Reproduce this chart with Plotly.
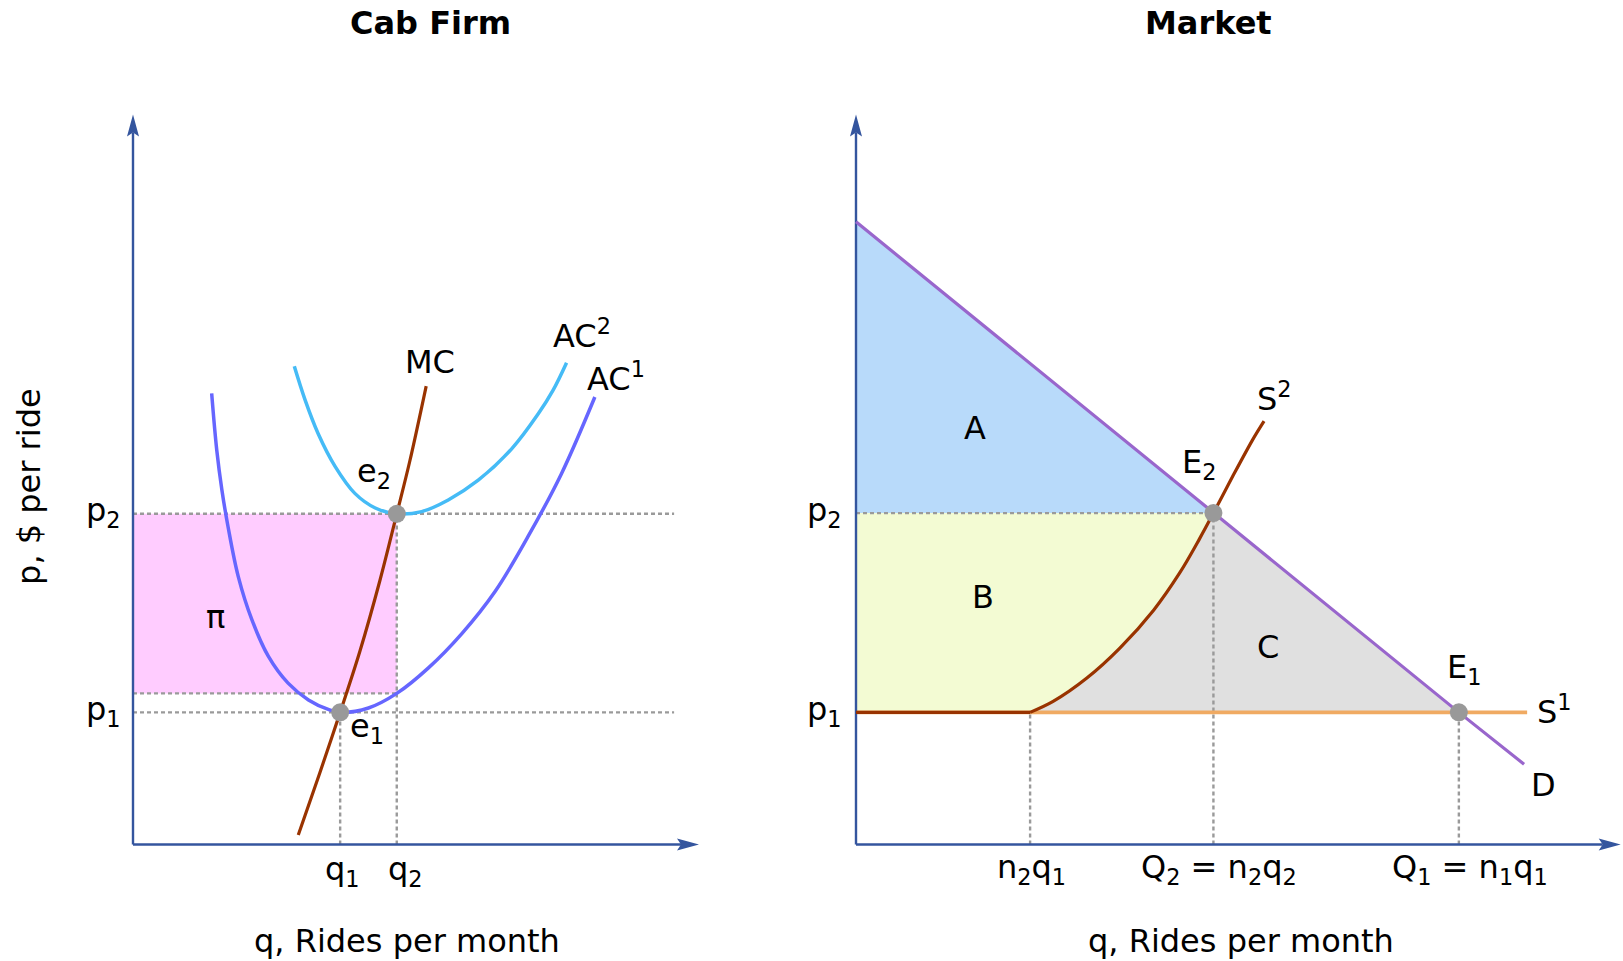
import plotly.graph_objects as go

# ======================= DATA =======================
# ---- Cab Firm panel ----
firm_q_ticks = [3.66, 4.66]                       # q1, q2
firm_q_labels = ["q<sub>1</sub>", "q<sub>2</sub>"]
firm_p_ticks = [1.81, 4.53]                       # p1, p2
firm_p_labels = ["p<sub>1</sub>", "p<sub>2</sub>"]
ac1_at_q2 = 2.07                                  # AC1 at q2 (bottom of the profit box)

mc_q = [2.92, 3.30, 3.66, 4.01, 4.36, 4.66, 4.89, 5.18]
mc_p = [0.13, 0.98, 1.81, 2.65, 3.61, 4.53, 5.25, 6.28]

ac1_q = [1.39, 1.48, 1.57, 1.68, 1.86, 2.10, 2.39, 2.74, 3.10, 3.45, 3.66,
         4.16, 4.66, 5.22, 5.81, 6.40, 6.98, 7.57, 8.16]
ac1_p = [6.18, 5.40, 4.86, 4.35, 3.67, 3.08, 2.58, 2.21, 1.98, 1.85, 1.81,
         1.87, 2.07, 2.42, 2.89, 3.47, 4.22, 5.08, 6.13]

ac2_q = [2.85, 3.04, 3.27, 3.57, 3.92, 4.28, 4.66, 5.10, 5.57, 6.10, 6.69, 7.16, 7.42, 7.66]
ac2_p = [6.55, 6.09, 5.63, 5.18, 4.81, 4.61, 4.53, 4.56, 4.72, 4.99, 5.42, 5.90, 6.22, 6.60]

# ---- Market panel ----
mkt_q_ticks = [2.27, 4.66, 7.86]                  # n2q1, Q2, Q1
mkt_q_labels = ["n<sub>2</sub>q<sub>1</sub>",
                "Q<sub>2</sub> = n<sub>2</sub>q<sub>2</sub>",
                "Q<sub>1</sub> = n<sub>1</sub>q<sub>1</sub>"]
mkt_p_ticks = [1.81, 4.54]                        # p1, p2
mkt_p_labels = ["p<sub>1</sub>", "p<sub>2</sub>"]

demand_q = [0.00, 4.66, 7.86, 8.71]
demand_p = [8.53, 4.54, 1.81, 1.10]

s1_q = [0.00, 8.75]
s1_p = [1.81, 1.81]

s2_flat_q = [0.00, 2.27]
s2_flat_p = [1.81, 1.81]
s2_q = [2.27, 2.57, 3.01, 3.44, 3.88, 4.22, 4.48, 4.66, 4.92, 5.18, 5.32]
s2_p = [1.81, 1.96, 2.28, 2.69, 3.21, 3.72, 4.19, 4.54, 5.06, 5.56, 5.80]
S2_E2_INDEX = 7   # index of E2 among the S2 points

# ======================= STYLE / GEOMETRY =======================
W, H = 1623, 961
FONT = "DejaVu Sans"
FS = 32
AXIS_C = "#34559E"
DASH_C = "#9A9A9A"
MC_C = "#993300"
AC1_C = "#6666FF"
AC2_C = "#45BBF6"
D_C = "#9966CC"
S1_C = "#F0AA62"
DOT_C = "#999999"
DASH = "4px,3px"

# pixel geometry of each panel (origin and pixels per unit)
OY, SY = 844.5, 73.0
L_OX, L_SX = 133.0, 56.6
R_OX, R_SX = 856.0, 76.7
AX_LEN_L = 10.0
AX_LEN_R = 9.97
AX_LEN_Y = 10.0
DASH_END_L = 9.56
SPLIT_PX = 790


def xaxis_cfg(ox, sx, lo_px, hi_px):
    return dict(domain=[lo_px / W, hi_px / W],
                range=[(lo_px - ox) / sx, (hi_px - ox) / sx],
                visible=False, fixedrange=True, showgrid=False, zeroline=False)


def yaxis_cfg(anchor):
    return dict(domain=[0, 1], range=[(OY - H) / SY, OY / SY],
                visible=False, fixedrange=True, anchor=anchor,
                showgrid=False, zeroline=False)


fig = go.Figure()


def line(x, y, color, width, xa, ya, dash=None, shape="linear"):
    fig.add_trace(go.Scatter(x=x, y=y, mode="lines", xaxis=xa, yaxis=ya,
                             line=dict(color=color, width=width, dash=dash, shape=shape),
                             hoverinfo="skip", showlegend=False))


def fill(x, y, color, xa, ya):
    fig.add_trace(go.Scatter(x=x, y=y, mode="lines", fill="toself", fillcolor=color,
                             line=dict(width=0, color=color), xaxis=xa, yaxis=ya,
                             hoverinfo="skip", showlegend=False))


def axes_with_arrows(xa, ya, sx, x_len):
    L, w, notch = 22.0, 6.0, 4.0
    line([0, 0], [0, AX_LEN_Y - (L - notch) / SY], AXIS_C, 2.4, xa, ya)
    fill([0, -w / sx, 0, w / sx, 0],
         [AX_LEN_Y, AX_LEN_Y - L / SY, AX_LEN_Y - (L - notch) / SY, AX_LEN_Y - L / SY, AX_LEN_Y],
         AXIS_C, xa, ya)
    line([0, x_len - (L - notch) / sx], [0, 0], AXIS_C, 2.4, xa, ya)
    fill([x_len, x_len - L / sx, x_len - (L - notch) / sx, x_len - L / sx, x_len],
         [0, -w / SY, 0, w / SY, 0], AXIS_C, xa, ya)


def dot(x, y, xa, ya):
    fig.add_trace(go.Scatter(x=x, y=y, mode="markers", xaxis=xa, yaxis=ya,
                             marker=dict(size=18, color=DOT_C, line=dict(width=0)),
                             hoverinfo="skip", showlegend=False, cliponaxis=False))


# ---------------- Left panel: Cab Firm ----------------
q1, q2 = firm_q_ticks
p1, p2 = firm_p_ticks
fill([0, q2, q2, 0, 0], [ac1_at_q2, ac1_at_q2, p2, p2, ac1_at_q2], "#FFCCFF", "x", "y")
line([0, DASH_END_L, None, 0, DASH_END_L, None, 0, q2],
     [p2, p2, None, p1, p1, None, ac1_at_q2, ac1_at_q2], DASH_C, 2.4, "x", "y", dash=DASH)
line([q1, q1, None, q2, q2], [0, p1, None, 0, p2], DASH_C, 2.4, "x", "y", dash=DASH)
axes_with_arrows("x", "y", L_SX, AX_LEN_L)
line(ac2_q, ac2_p, AC2_C, 3.5, "x", "y", shape="spline")
line(ac1_q, ac1_p, AC1_C, 3.5, "x", "y", shape="spline")
line(mc_q, mc_p, MC_C, 3.2, "x", "y", shape="spline")
dot([q1, q2], [p1, p2], "x", "y")

# ---------------- Right panel: Market ----------------
n2q1, Q2, Q1 = mkt_q_ticks
P1, P2 = mkt_p_ticks
s2_low_q = s2_q[:S2_E2_INDEX + 1]
s2_low_p = s2_p[:S2_E2_INDEX + 1]
fill([0, Q2, 0, 0], [demand_p[0], P2, P2, demand_p[0]], "#B8DAFA", "x2", "y2")
fill([0, Q2] + s2_low_q[::-1] + [0, 0], [P2, P2] + s2_low_p[::-1] + [P1, P2], "#F3FBD3", "x2", "y2")
fill(s2_low_q + [Q1, n2q1], s2_low_p + [P1, P1], "#E0E0E0", "x2", "y2")
line([0, Q2], [P2, P2], DASH_C, 2.4, "x2", "y2", dash=DASH)
line([n2q1, n2q1, None, Q2, Q2, None, Q1, Q1], [0, P1, None, 0, P2, None, 0, P1],
     DASH_C, 2.4, "x2", "y2", dash=DASH)
line(s1_q, s1_p, S1_C, 3.6, "x2", "y2")
axes_with_arrows("x2", "y2", R_SX, AX_LEN_R)
line(demand_q, demand_p, D_C, 3.2, "x2", "y2")
line(s2_flat_q, s2_flat_p, MC_C, 3.4, "x2", "y2")
line(s2_q, s2_p, MC_C, 3.2, "x2", "y2", shape="spline")
dot([Q2, Q1], [P2, P1], "x2", "y2")

# ---------------- Text ----------------
ann = []


def label(text, x, y, xa, ya, xanchor="center", size=FS, angle=0):
    ann.append(dict(text=text, x=x, y=y, xref=xa, yref=ya, showarrow=False,
                    xanchor=xanchor, yanchor="middle", textangle=angle,
                    font=dict(family=FONT, size=size, color="black")))


# left
label("<b>Cab Firm</b>", 5.25, 11.26, "x", "y", size=32)
label("MC", 5.25, 6.61, "x", "y")
label("AC<sup>2</sup>", 7.94, 6.99, "x", "y")
label("AC<sup>1</sup>", 8.53, 6.41, "x", "y")
label("e<sub>2</sub>", 4.26, 5.09, "x", "y")
label("e<sub>1</sub>", 4.13, 1.60, "x", "y")
label("π", 1.46, 3.11, "x", "y")
for t, v in zip(firm_p_labels, firm_p_ticks):
    label(t, -0.18, v + 0.02, "x", "y", xanchor="right")
for t, xv in zip(firm_q_labels, [3.71, 4.82]):
    label(t, xv, -0.36, "x", "y")
label("q, Rides per month", 4.84, -1.32, "x", "y")
label("p, $ per ride", -1.84, 4.91, "x", "y", angle=-90)

# right
label("<b>Market</b>", 4.60, 11.26, "x2", "y2", size=32)
label("A", 1.55, 5.71, "x2", "y2")
label("B", 1.66, 3.39, "x2", "y2")
label("C", 5.37, 2.71, "x2", "y2")
label("E<sub>2</sub>", 4.47, 5.21, "x2", "y2")
label("E<sub>1</sub>", 7.93, 2.40, "x2", "y2")
label("S<sup>2</sup>", 5.46, 6.13, "x2", "y2")
label("S<sup>1</sup>", 9.11, 1.84, "x2", "y2")
label("D", 8.96, 0.82, "x2", "y2")
for t, v in zip(mkt_p_labels, mkt_p_ticks):
    label(t, -0.16, v + 0.02, "x2", "y2", xanchor="right")
for t, xv in zip(mkt_q_labels, [2.29, 4.73, 8.00]):
    label(t, xv, -0.34, "x2", "y2")
label("q, Rides per month", 5.02, -1.32, "x2", "y2")
label("p, $ per ride", -1.19, 5.05, "x2", "y2", angle=-90)

fig.update_layout(
    width=W, height=H, autosize=False,
    margin=dict(l=0, r=0, t=0, b=0, pad=0),
    paper_bgcolor="white", plot_bgcolor="white",
    showlegend=False,
    xaxis=xaxis_cfg(L_OX, L_SX, 0, SPLIT_PX),
    yaxis=yaxis_cfg("x"),
    xaxis2=xaxis_cfg(R_OX, R_SX, SPLIT_PX, W),
    yaxis2=yaxis_cfg("x2"),
    annotations=ann,
    font=dict(family=FONT),
)

fig.write_html("out.html", config={"displayModeBar": False},
               post_script="document.body.style.margin='0';document.body.style.overflow='hidden';")
